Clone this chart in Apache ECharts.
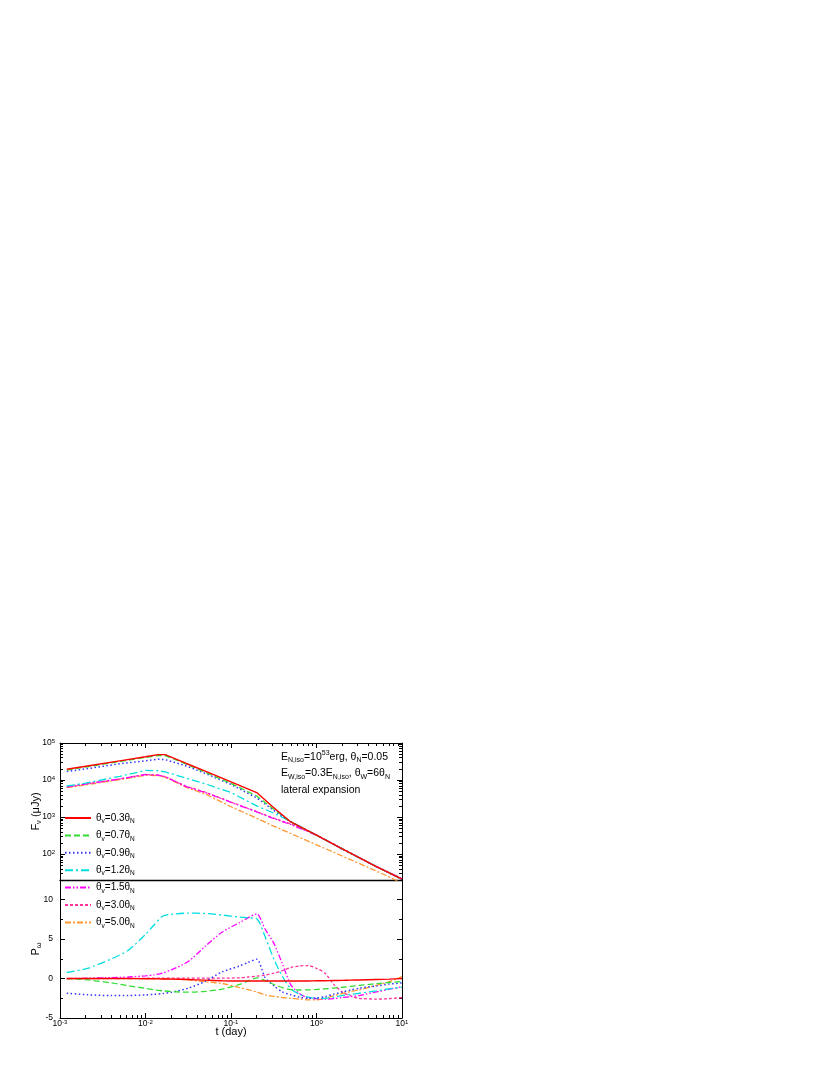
<!DOCTYPE html>
<html>
<head>
<meta charset="utf-8">
<script src="https://cdn.jsdelivr.net/npm/echarts@6/dist/echarts.min.js"></script>
<style>
html,body{margin:0;padding:0;background:#fff;}
#chart{width:830px;height:1075px;}
</style>
</head>
<body>
<div id="chart"></div>
<script>
// ---------------- DATA ----------------
const viewAngles = ['0.3', '0.7', '0.9', '1.2', '1.5', '3.0', '5.0'];

// upper panel: flux density F_nu (micro-Jy) vs t (day)
const tUpper = [0.0012, 0.002, 0.005, 0.01, 0.014, 0.017, 0.03, 0.05, 0.1, 0.2, 0.3, 0.5, 1, 2, 5, 10];
const flux03 = [19500, 23500, 33000, 42500, 48500, 48500, 28000, 17500, 8900, 4600, 2000, 740, 325, 138, 46, 21];
const flux07 = [18600, 22400, 31600, 40700, 45700, 45700, 26900, 16200, 8100, 3700, 1780, 740, 324, 138, 46, 21];
const flux09 = [17000, 20000, 27500, 33100, 36300, 35500, 24000, 15100, 7600, 3300, 1660, 740, 324, 138, 46, 21];
const flux12 = [6900, 8300, 12600, 18200, 17800, 16600, 11200, 7900, 4600, 2000, 1350, 760, 324, 138, 46, 21];
const flux15 = [6500, 7800, 10700, 14100, 13500, 12300, 6600, 4600, 2500, 1380, 950, 630, 324, 138, 46, 21];
const flux30 = [6500, 7800, 10700, 14100, 13500, 12300, 6750, 4700, 2550, 1400, 980, 650, 330, 141, 47, 22];
const flux50 = [6200, 7400, 10200, 13500, 13200, 12000, 6300, 4200, 1900, 930, 600, 360, 178, 89, 35, 16.6];

// lower panel: polarization P vs t (day)
const tLower = [0.0012, 0.0021, 0.004, 0.0063, 0.01, 0.0126, 0.0158, 0.02, 0.0316, 0.05, 0.079, 0.126, 0.158, 0.2,
  0.251, 0.316, 0.398, 0.501, 0.631, 0.794, 1, 1.26, 1.58, 2, 2.51, 3.16, 5.01, 7.08, 10];
const pol03 = [0, 0, 0, 0, -0.02, -0.03, -0.05, -0.07, -0.12, -0.2, -0.27, -0.3, -0.3, -0.3, -0.3, -0.3, -0.3, -0.3, -0.3, -0.3, -0.28, -0.27, -0.25, -0.23, -0.2, -0.18, -0.12, -0.07, 0];
const pol07 = [0, -0.17, -0.55, -0.9, -1.25, -1.43, -1.55, -1.65, -1.73, -1.62, -1.35, -0.75, -0.3, 0.08, -0.25, -0.75, -1.15, -1.4, -1.45, -1.43, -1.38, -1.3, -1.2, -1.1, -0.98, -0.87, -0.65, -0.5, -0.38];
const pol09 = [-1.86, -2.05, -2.16, -2.15, -2.08, -2.0, -1.9, -1.75, -1.22, -0.35, 0.85, 1.6, 2.05, 2.46, 0.1, -0.9, -1.7, -2.05, -2.35, -2.5, -2.45, -2.3, -2.0, -1.7, -1.45, -1.22, -0.95, -0.7, -0.55];
const pol12 = [0.77, 1.3, 2.5, 3.6, 5.6, 6.8, 7.9, 8.15, 8.3, 8.25, 8.05, 7.8, 7.7, 7.58, 5.3, 2.5, 0.3, -1.3, -2.0, -2.36, -2.5, -2.5, -2.35, -2.15, -2.0, -1.86, -1.55, -1.3, -1.1];
const pol15 = [0, 0.05, 0.12, 0.2, 0.35, 0.47, 0.7, 1.1, 2.16, 4.1, 5.9, 7.1, 7.7, 8.22, 6.25, 4.5, 1.9, -0.8, -1.9, -2.45, -2.55, -2.6, -2.55, -2.4, -2.3, -2.15, -1.7, -1.35, -1.05];
const pol30 = [0, 0, 0.02, 0.03, 0.04, 0.05, 0.05, 0.05, 0.05, 0.05, 0.05, 0.1, 0.2, 0.3, 0.45, 0.68, 1.0, 1.4, 1.6, 1.65, 1.3, 0.68, -0.7, -1.7, -2.2, -2.5, -2.6, -2.55, -2.4];
const pol50 = [0, 0, 0, 0, 0, 0, -0.02, -0.05, -0.17, -0.4, -0.62, -1.15, -1.4, -1.7, -2.07, -2.25, -2.4, -2.5, -2.6, -2.7, -2.7, -2.5, -2.2, -1.9, -1.65, -1.43, -0.85, -0.4, 0.25];

const xDecades = [-3, -2, -1, 0, 1];
const fluxDecades = [2, 3, 4, 5];
const polTicks = [-5, 0, 5, 10];
const polMinorTicks = [-2.5, 2.5, 7.5];

// ---------------- STYLE ----------------
const styles = [
  {color: '#ff0000', type: 'solid', width: 1.4},
  {color: '#33dd33', type: [6, 3], width: 1.3},
  {color: '#3333ff', type: [1.5, 2.5], width: 1.5},
  {color: '#00dddd', type: [8, 3, 2, 3], width: 1.3},
  {color: '#ff00ff', type: [6, 2, 1.5, 2, 1.5, 2], width: 1.3},
  {color: '#ff3399', type: [3, 2], width: 1.3},
  {color: '#ff9933', type: [6, 2, 2, 2], width: 1.3}
];
const fluxSets = [flux03, flux07, flux09, flux12, flux15, flux30, flux50];
const polSets = [pol03, pol07, pol09, pol12, pol15, pol30, pol50];

const FONT = '"Liberation Sans", Arial, sans-serif';
const log10 = Math.log10;

function minorLogValues(lo, hi) {
  const out = [];
  for (let n = Math.floor(lo) - 1; n <= Math.ceil(hi); n++) {
    for (let k = 2; k <= 9; k++) {
      const v = n + log10(k);
      if (v > lo + 1e-6 && v < hi - 1e-6) out.push(v);
    }
  }
  return out;
}
const fluxMin = log10(20), fluxMax = 5;
const xMin = -3, xMax = 1;
const xMinor = minorLogValues(xMin, xMax);
const yMinor = minorLogValues(fluxMin, fluxMax);

function seriesName(i) { return 'θv=' + viewAngles[i] + 'θN'; }

const expRich = {
  b: {fontSize: 8.5, fontFamily: FONT, color: '#000', lineHeight: 10},
  s: {fontSize: 6, fontFamily: FONT, color: '#000', lineHeight: 10, verticalAlign: 'top'}
};
function expLabel(v) { return '{b|10}{s|' + Math.round(v) + '}'; }

const axisLineOn = {show: true, onZero: false, lineStyle: {color: '#000', width: 1}};
const axisLineOff = {show: false, onZero: false};
function tickAxis(base, values, len, showLine) {
  return Object.assign({
    type: 'value', axisLine: showLine ? axisLineOn : axisLineOff,
    axisTick: {show: true, inside: true, length: len, customValues: values, lineStyle: {color: '#000', width: 1}},
    axisLabel: {show: false}, splitLine: {show: false}
  }, base);
}

const xAxes = [
  // 0: upper grid bottom (divider line)
  {type: 'value', gridIndex: 0, position: 'bottom', min: xMin, max: xMax,
   axisLine: {show: true, onZero: false, lineStyle: {color: '#000', width: 1.3}},
   axisTick: {show: false}, axisLabel: {show: false}, splitLine: {show: false}},
  // 1: upper grid top major
  tickAxis({gridIndex: 0, position: 'top', min: xMin, max: xMax}, xDecades, 5, true),
  // 2: upper grid top minor
  tickAxis({gridIndex: 0, position: 'top', min: xMin, max: xMax}, xMinor, 3, false),
  // 3: lower grid bottom major + labels
  {type: 'value', gridIndex: 1, position: 'bottom', min: xMin, max: xMax, axisLine: axisLineOn,
   axisTick: {show: true, inside: true, length: 5, customValues: xDecades, lineStyle: {color: '#000'}},
   axisLabel: {show: true, customValues: xDecades, margin: 1, formatter: expLabel, rich: expRich},
   splitLine: {show: false},
   name: 't (day)', nameLocation: 'middle', nameGap: 8, nameMoveOverlap: false,
   nameTextStyle: {fontSize: 11, fontFamily: FONT, color: '#000'}},
  // 4: lower grid bottom minor
  tickAxis({gridIndex: 1, position: 'bottom', min: xMin, max: xMax}, xMinor, 3, false)
];

const yAxes = [
  // 0: upper left major + labels
  {type: 'value', gridIndex: 0, position: 'left', min: fluxMin, max: fluxMax, axisLine: axisLineOn,
   axisTick: {show: true, inside: true, length: 5, customValues: fluxDecades, lineStyle: {color: '#000'}},
   axisLabel: {show: true, customValues: fluxDecades, margin: 5, formatter: expLabel, rich: expRich},
   splitLine: {show: false},
   name: 'F{s|ν} (μJy)', nameLocation: 'middle', nameGap: 17, nameMoveOverlap: false,
   nameTextStyle: {fontSize: 11, fontFamily: FONT, color: '#000',
     rich: {s: {fontSize: 7.5, fontFamily: FONT, verticalAlign: 'bottom', lineHeight: 14}}}},
  // 1: upper left minor
  tickAxis({gridIndex: 0, position: 'left', min: fluxMin, max: fluxMax}, yMinor, 3, false),
  // 2: upper right major
  tickAxis({gridIndex: 0, position: 'right', min: fluxMin, max: fluxMax}, fluxDecades, 5, true),
  // 3: upper right minor
  tickAxis({gridIndex: 0, position: 'right', min: fluxMin, max: fluxMax}, yMinor, 3, false),
  // 4: lower left major + labels
  {type: 'value', gridIndex: 1, position: 'left', min: -5, max: 12.5, axisLine: axisLineOn,
   axisTick: {show: true, inside: true, length: 5, customValues: polTicks, lineStyle: {color: '#000'}},
   axisLabel: {show: true, customValues: polTicks, margin: 7, fontSize: 8.5, fontFamily: FONT, color: '#000'},
   splitLine: {show: false},
   name: 'P{s|ω}', nameLocation: 'middle', nameGap: 17, nameMoveOverlap: false,
   nameTextStyle: {fontSize: 11, fontFamily: FONT, color: '#000',
     rich: {s: {fontSize: 7.5, fontFamily: FONT, verticalAlign: 'bottom', lineHeight: 14}}}},
  // 5: lower left minor
  tickAxis({gridIndex: 1, position: 'left', min: -5, max: 12.5}, polMinorTicks, 3, false),
  // 6: lower right major
  tickAxis({gridIndex: 1, position: 'right', min: -5, max: 12.5}, polTicks, 5, true),
  // 7: lower right minor
  tickAxis({gridIndex: 1, position: 'right', min: -5, max: 12.5}, polMinorTicks, 3, false)
];

const series = [];
for (let i = 0; i < viewAngles.length; i++) {
  const st = styles[i];
  series.push({
    name: seriesName(i), type: 'line', xAxisIndex: 0, yAxisIndex: 0,
    symbol: 'none', smooth: false, z: 10 - i,
    lineStyle: {color: st.color, type: st.type, width: st.width},
    itemStyle: {color: st.color},
    data: tUpper.map((t, k) => [log10(t), log10(fluxSets[i][k])])
  });
}
for (let i = 0; i < viewAngles.length; i++) {
  const st = styles[i];
  series.push({
    name: seriesName(i), type: 'line', xAxisIndex: 3, yAxisIndex: 4,
    symbol: 'none', smooth: 0.25, z: 10 - i,
    lineStyle: {color: st.color, type: st.type, width: st.width},
    itemStyle: {color: st.color},
    data: tLower.map((t, k) => [log10(t), polSets[i][k]])
  });
}

const annRich = {
  t: {fontSize: 10.5, fontFamily: FONT, color: '#000', lineHeight: 14},
  sub: {fontSize: 7, fontFamily: FONT, color: '#000', lineHeight: 14, verticalAlign: 'bottom'},
  sup: {fontSize: 7, fontFamily: FONT, color: '#000', lineHeight: 14, verticalAlign: 'top'}
};
function annText(str, top) {
  return {type: 'text', left: 281, top: top, z: 100,
    style: {text: str, rich: annRich, font: '10.5px ' + FONT, fill: '#000'}};
}

const option = {
  backgroundColor: '#fff',
  animation: false,
  grid: [
    {left: 60, right: 428, top: 743, height: 137},
    {left: 60, right: 428, top: 880, height: 138}
  ],
  xAxis: xAxes,
  yAxis: yAxes,
  legend: {
    orient: 'vertical', left: 64, top: 811, itemWidth: 26, itemHeight: 14, itemGap: 3.4,
    padding: 0, selectedMode: false,
    itemStyle: {opacity: 0},
    data: viewAngles.map((a, i) => seriesName(i)),
    formatter: function (name) {
      const a = name.replace('θv=', '').replace('θN', '');
      return '{t|θ}{sub|v}{t|=' + a + 'θ}{sub|N}';
    },
    textStyle: {fontSize: 10, fontFamily: FONT, color: '#000', lineHeight: 14,
      rich: {
        t: {fontSize: 10, fontFamily: FONT, color: '#000', lineHeight: 14},
        sub: {fontSize: 6.5, fontFamily: FONT, color: '#000', lineHeight: 14, verticalAlign: 'bottom'}
      }}
  },
  graphic: [
    annText('{t|E}{sub|N,iso}{t|=10}{sup|53}{t|erg, θ}{sub|N}{t|=0.05}', 750),
    annText('{t|E}{sub|W,iso}{t|=0.3E}{sub|N,iso}{t|, θ}{sub|W}{t|=6θ}{sub|N}', 768),
    annText('{t|lateral expansion}', 785)
  ],
  series: series
};

const chart = echarts.init(document.getElementById('chart'), null, {renderer: 'canvas'});
chart.setOption(option);
</script>
</body>
</html>
